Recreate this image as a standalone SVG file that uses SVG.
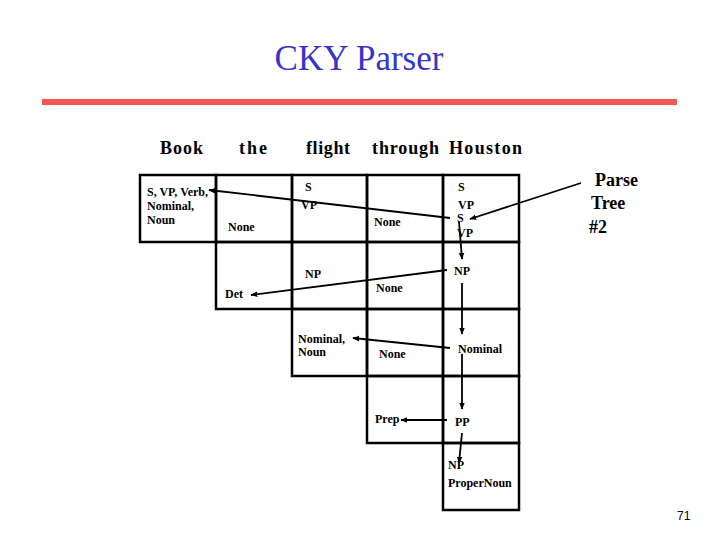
<svg xmlns="http://www.w3.org/2000/svg" width="720" height="540" viewBox="0 0 720 540">
<style>
  .cell { fill: none; stroke: #000; stroke-width: 2.5; }
  .t { font-family: 'Liberation Serif', 'DejaVu Serif', serif; font-weight: bold; font-size: 12px; fill: #000; }
  .w { font-family: 'Liberation Serif', 'DejaVu Serif', serif; font-weight: bold; font-size: 18px; fill: #000; }
  .pt { font-family: 'Liberation Serif', 'DejaVu Serif', serif; font-weight: bold; font-size: 18px; fill: #000; }
  .title { font-family: 'Liberation Serif', 'DejaVu Serif', serif; font-size: 35px; fill: #3535c8; }
  .conn { stroke: #000; stroke-width: 1.8; fill: none; marker-end: url(#arr); }
</style>
<defs>
  <marker id="arr" viewBox="0 0 10 10" refX="9" refY="5" markerWidth="7" markerHeight="7" markerUnits="userSpaceOnUse" orient="auto">
    <path d="M0,1 L10,5 L0,9 Z" fill="#000"/>
  </marker>
</defs>
<rect width="720" height="540" fill="#fff"/>
<g id="title">
  <text class="title" x="359" y="70" text-anchor="middle">CKY Parser</text>
  <rect x="42" y="99" width="635" height="6" fill="#f45656"/>
</g>
<g id="words">
  <text class="w" x="160" y="154" textLength="43">Book</text>
  <text class="w" x="239" y="154" textLength="28">the</text>
  <text class="w" x="306" y="154" textLength="44">flight</text>
  <text class="w" x="372" y="154" textLength="67">through</text>
  <text class="w" x="449" y="154" textLength="73">Houston</text>
</g>
<g id="c00"><rect class="cell" x="140" y="175" width="76" height="67"/>
  <text class="t" x="147" y="196">S, VP, Verb,</text><text class="t" x="147" y="210">Nominal,</text><text class="t" x="147" y="224">Noun</text></g>
<g id="c01"><rect class="cell" x="216" y="175" width="76" height="67"/>
  <text class="t" x="228" y="231">None</text></g>
<g id="c02"><rect class="cell" x="292" y="175" width="75" height="67"/>
  <text class="t" x="305" y="191">S</text><text class="t" x="301" y="209">VP</text></g>
<g id="c03"><rect class="cell" x="367" y="175" width="76" height="67"/>
  <text class="t" x="374" y="226">None</text></g>
<g id="c04"><rect class="cell" x="443" y="175" width="76" height="67"/>
  <text class="t" x="458" y="191">S</text><text class="t" x="458" y="209">VP</text><text class="t" x="457" y="222">S</text><text class="t" x="457" y="237">VP</text></g>
<g id="c11"><rect class="cell" x="216" y="242" width="76" height="67"/>
  <text class="t" x="225" y="298">Det</text></g>
<g id="c12"><rect class="cell" x="292" y="242" width="75" height="67"/>
  <text class="t" x="305" y="278">NP</text></g>
<g id="c13"><rect class="cell" x="367" y="242" width="76" height="67"/>
  <text class="t" x="376" y="292">None</text></g>
<g id="c14"><rect class="cell" x="443" y="242" width="76" height="67"/>
  <text class="t" x="454" y="275">NP</text></g>
<g id="c22"><rect class="cell" x="292" y="309" width="75" height="67"/>
  <text class="t" x="298" y="343">Nominal,</text><text class="t" x="298" y="356">Noun</text></g>
<g id="c23"><rect class="cell" x="367" y="309" width="76" height="67"/>
  <text class="t" x="379" y="358">None</text></g>
<g id="c24"><rect class="cell" x="443" y="309" width="76" height="67"/>
  <text class="t" x="458" y="353">Nominal</text></g>
<g id="c33"><rect class="cell" x="367" y="376" width="76" height="67"/>
  <text class="t" x="375" y="423">Prep</text></g>
<g id="c34"><rect class="cell" x="443" y="376" width="76" height="67"/>
  <text class="t" x="455" y="426">PP</text></g>
<g id="c44"><rect class="cell" x="443" y="443" width="76" height="67"/>
  <text class="t" x="448" y="469">NP</text><text class="t" x="448" y="487">ProperNoun</text></g>
<g id="parsetree">
  <text class="pt" x="595" y="186">Parse</text>
  <text class="pt" x="591" y="209">Tree</text>
  <text class="pt" x="589" y="233">#2</text>
</g>
<g id="connectors">
  <line class="conn" x1="581" y1="183" x2="470" y2="219"/>
  <line class="conn" x1="459" y1="222" x2="462" y2="259"/>
  <line class="conn" x1="450" y1="218" x2="209" y2="190"/>
  <line class="conn" x1="447" y1="270" x2="251" y2="295"/>
  <line class="conn" x1="462" y1="283" x2="462" y2="334"/>
  <line class="conn" x1="450" y1="348" x2="353" y2="338"/>
  <line class="conn" x1="462" y1="354" x2="462" y2="409"/>
  <line class="conn" x1="447" y1="420" x2="401" y2="420"/>
  <line class="conn" x1="462" y1="433" x2="459" y2="463"/>
</g>
<text x="677" y="520" font-family="'Liberation Sans', Arial, sans-serif" font-size="12" fill="#000">71</text>
</svg>
